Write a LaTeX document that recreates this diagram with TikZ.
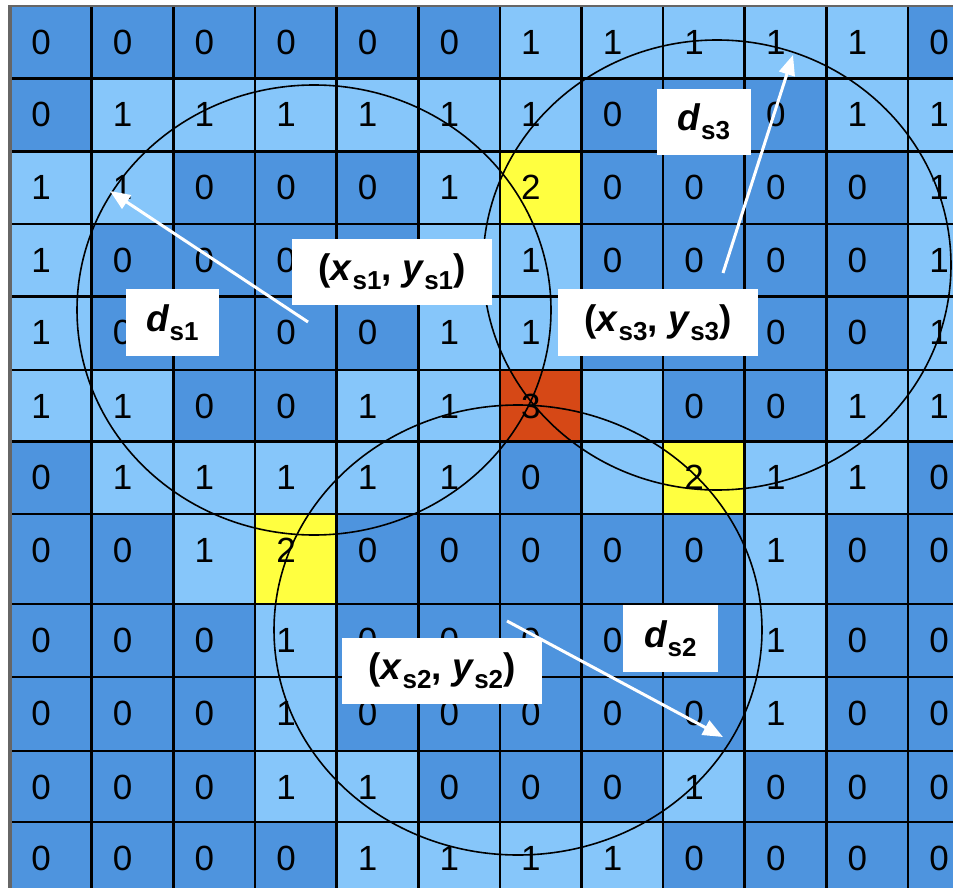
\documentclass[tikz,border=0pt]{standalone}
\usepackage{fontspec}
\setmainfont{Liberation Sans}
\usetikzlibrary{arrows.meta}
\definecolor{celllight}{RGB}{134,198,250}
\definecolor{celldark}{RGB}{78,148,222}
\definecolor{cellyellow}{RGB}{255,255,64}
\definecolor{cellred}{RGB}{214,72,22}
\definecolor{framegray}{RGB}{102,102,102}
\newcommand\celltext[1]{\if#1a\else\if#1b\else#1\fi\fi}
\newcommand\sub[1]{\raisebox{-9pt}{\fontsize{26}{28}\selectfont #1}}

\tikzset{
  kind 0/.style={fill=celldark},
  kind 1/.style={fill=celllight},
  kind 2/.style={fill=cellyellow},
  kind 3/.style={fill=cellred},
  kind a/.style={fill=celllight},
  kind b/.style={fill=celldark},
  digit/.style={inner sep=0pt, font=\fontsize{35}{40}\selectfont},
  gridline/.style={draw=black, line width=2.6pt},
  ring/.style={draw=black, line width=1.6pt},
  ray/.style={draw=white, line width=3pt, -{Triangle[length=20pt, width=16pt]}},
  tagbox/.style={fill=white, inner sep=0pt, font=\bfseries\fontsize{37}{42}\selectfont},
}

\begin{document}
\begin{tikzpicture}[x=1pt, y=-1pt]
    \useasboundingbox (0,0) rectangle (953,888);
    \clip (0,0) rectangle (953,888);
    \def\rowtop{{6,78.3,151.7,224,296.7,370,441.7,514,604,677,751,822,895}}
    \def\colw{81.63}
    % cells, row by row (a, b = cell with no digit shown)
    \foreach \codes [count=\r from 0] in {
        {0,0,0,0,0,0,1,1,1,1,1,0},
        {0,1,1,1,1,1,1,0,b,0,1,1},
        {1,1,0,0,0,1,2,0,0,0,0,1},
        {1,0,0,0,b,a,1,0,0,0,0,1},
        {1,0,b,0,0,1,1,b,b,0,0,1},
        {1,1,0,0,1,1,3,a,0,0,1,1},
        {0,1,1,1,1,1,0,a,2,1,1,0},
        {0,0,1,2,0,0,0,0,0,1,0,0},
        {0,0,0,1,0,0,0,0,b,1,0,0},
        {0,0,0,1,0,0,0,0,0,1,0,0},
        {0,0,0,1,1,0,0,0,1,0,0,0},
        {0,0,0,0,1,1,1,1,0,0,0,0}} {
        \pgfmathsetmacro\ytop{\rowtop[\r]}
        \pgfmathsetmacro\ybot{\rowtop[\r+1]}
        \foreach \v [count=\c from 0] in \codes {
            \pgfmathsetmacro\xl{10.1+\c*\colw}
            \path[kind \v] (\xl,\ytop) rectangle (\xl+\colw,\ybot);
            \node[digit] (n\r-\c) at (\xl+31,\ytop+36) {\celltext{\v}};
        }
    }
    % grid lines
    \foreach \c in {1,...,11}
        \draw[gridline] (10.1+\c*\colw,6) -- (10.1+\c*\colw,895);
    \foreach \r in {1,...,11} {
        \pgfmathsetmacro\yy{\rowtop[\r]}
        \draw[gridline] (10.1,\yy) -- (953,\yy);
    }
    \draw[framegray, line width=4pt] (10,895) -- (10,6);
    \draw[framegray, line width=2.5pt] (8,6) -- (953,6);
    % sensing ranges
    \coordinate (o1) at (314,310);
    \coordinate (o2) at (518,630);
    \coordinate (o3) at (717,265);
    \draw[ring] (o1) ellipse [x radius=237pt, y radius=225pt];
    \draw[ring] (o2) ellipse [x radius=244pt, y radius=225pt];
    \draw[ring] (o3) ellipse [x radius=234pt, y radius=225pt];
    % radius arrows
    \coordinate (a1) at (308,322);
    \coordinate (t1) at (110,191);
    \coordinate (a2) at (507,621);
    \coordinate (t2) at (723,737);
    \coordinate (a3) at (723,273);
    \coordinate (t3) at (793,55);
    \draw[ray] (a1) -- (t1);
    \draw[ray] (a2) -- (t2);
    \draw[ray] (a3) -- (t3);
    % labels
    \node[tagbox, minimum width=93pt, minimum height=67pt] (ds1) at (172.5,322.5) {\textit{d}\sub{s1}};
    \node[tagbox, minimum width=200pt, minimum height=66pt] (xy1) at (392,272) {(\textit{x}\sub{s1}, \textit{y}\sub{s1})};
    \node[tagbox, minimum width=94pt, minimum height=66pt] (ds3) at (704,122) {\textit{d}\sub{s3}};
    \node[tagbox, minimum width=200pt, minimum height=67pt] (xy3) at (658,322.5) {(\textit{x}\sub{s3}, \textit{y}\sub{s3})};
    \node[tagbox, minimum width=200pt, minimum height=66pt] (xy2) at (442,671) {(\textit{x}\sub{s2}, \textit{y}\sub{s2})};
    \node[tagbox, minimum width=95pt, minimum height=67pt] (ds2) at (670.5,638.5) {\textit{d}\sub{s2}};
\end{tikzpicture}
\end{document}
